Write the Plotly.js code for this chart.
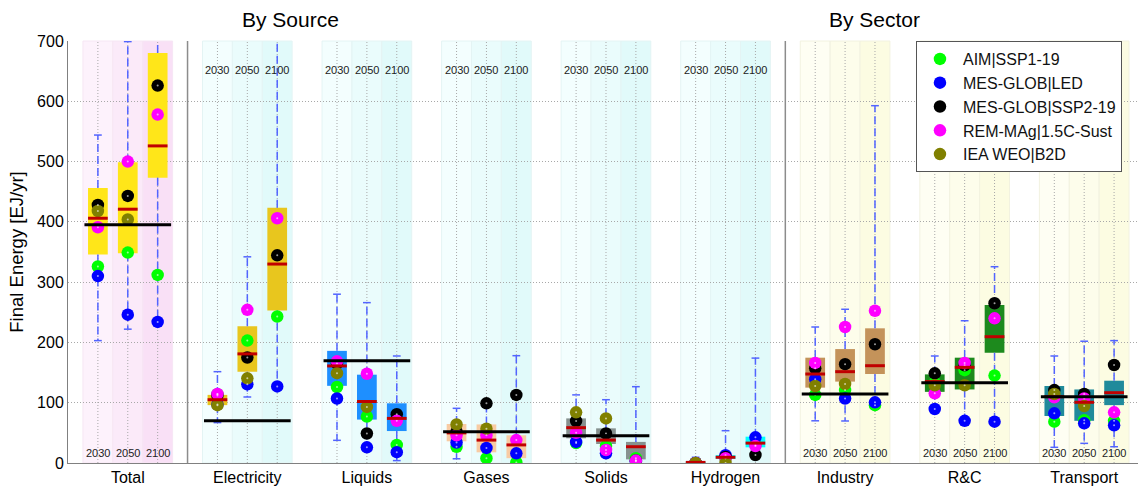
<!DOCTYPE html>
<html><head><meta charset="utf-8">
<script src="https://cdn.plot.ly/plotly-3.0.1.min.js"></script>
<style>html,body{margin:0;padding:0;background:#fff;overflow:hidden}#chart{width:1138px;height:486px}</style>
</head><body><div id="chart"></div>
<script>
// ---------------- DATA ----------------
const categories = ['Total','Electricity','Liquids','Gases','Solids','Hydrogen','Industry','R&C','Transport'];
const years = ['2030','2050','2100'];
const groupTypes = ['total','source','source','source','source','source','sector','sector','sector'];

// box statistics, 27 values each (category x year)
const boxQ1 = [346,348,473, 96,151.5,253, 128,72,53, 36,17.7,8, 41,31.5,6, 0,6.6,26, 125,135,147.6, 118,122,183, 78,70,96];
const boxQ3 = [456,499,680, 113,227,423.5, 186,146.5,99, 64.7,64,46, 74,57.5,35, 2,13,43.7, 174.7,189,223.4, 147,174.7,262, 127.7,122,136.5];
const boxMedian = [406,421,526, 105,181,330, 161,102,74, 50,38,30, 58.6,38,27, 1,9.5,33, 147.6,151.5,161.4, 135,158.7,209.5, 110,100.7,116.6];
const whiskerLow = [203,222,234, 67,109.5,127, 37.6,26,4, 7,8,0, 35,16,2, 0,0,13, 70,69.7,96, 89.6,70,68.5, 26,32.6,27];
const whiskerHigh = [544,699,760, 151.5,342,760, 280,266,177.5, 90.7,99,178, 113,105,126.6, 9.5,53.6,174, 225.6,255,592.7, 177.5,236,325.6, 177.5,202,203];

// reference (black) line per category
const refLine = [395, 70, 169.7, 52, 45.3, null, 114.5, 133, 110];

// model scenarios
const modelNames = ['AIM|SSP1-19','MES-GLOB|LED','MES-GLOB|SSP2-19','REM-MAg|1.5C-Sust','IEA WEO|B2D'];
const aimSSP1 = [326,349,312, 114,203,243, 126,77,30, 27,8,1, 33,28,8, 0,8,30, 113,121,96, 133,154,145, 68.5,71,70];
const mesLED = [310,246,234, 97,130.5,127, 107,26,18, 34,25,16, 35,16,3, 0,13,42.6, 139,107,100.6, 89.6,70,68.5, 82.4,65.8,62.5];
const mesSSP2 = [428,443,626, 112,175,344.5, 165,49,81, 52,99,113, 69.7,49,4, 0,10,13.3, 157,164,197, 148.7,162,265, 121,114.5,162.5];
const remSust = [391,500,578, 114.5,254,406, 168.6,148,70, 46,46,38, 50,21.6,4, 0,8,28, 166,225.6,252.6, 115.6,166,240, 109,107,84];
const ieaB2D = [418,404,null, 96,140.5,null, 149,93,null, 64,57,null, 84,74,null, 0,0,null, 127.7,131,null, 129,129,null, 114.5,94.5,null];

// ---------------- STYLE ----------------
const FONT = 'Arial, "Liberation Sans", sans-serif';
const modelColors = ['#00ff00','#0000ff','#000000','#ff00ff','#808000'];
const modelSeries = [aimSSP1, mesLED, mesSSP2, remSust, ieaB2D];
const boxColors = ['#ffe619','#e8c61e','#1e8fff','#f8cba3','#86918f','#00ffff','#c4935a','#1d8a1d','#1f8a9b'];
const bandColors = {
  total: ['#fdf2fc','#fbeaf9','#f9e0f6'],
  source: ['#f3fefe','#eafcfc','#e1fafa'],
  sector: ['#fefef3','#fdfdeb','#fcfce2']
};
const bandEdge = {total:'#f6e6f4', source:'#e4f4f4', sector:'#f2f2e0'};
const whiskerColor = '#5264ff';
const HALF = 0.33, CAP = 0.13;

// positions
const xpos = [], colCat = [], colYear = [];
categories.forEach((c,i)=>years.forEach((y,j)=>{xpos.push(1+4*i+j); colCat.push(i); colYear.push(j);}));

// ---------------- SHAPES ----------------
const shapes = [];
xpos.forEach((x,k)=>{
  const t = groupTypes[colCat[k]];
  shapes.push({type:'rect', layer:'below', xref:'x', yref:'paper', x0:x-0.5, x1:x+0.5, y0:0, y1:1,
    fillcolor: bandColors[t][colYear[k]], line:{color:bandEdge[t], width:1}});
});
xpos.forEach(x=>{
  shapes.push({type:'line', layer:'below', xref:'x', yref:'paper', x0:x, x1:x, y0:0, y1:1,
    line:{color:'#a8a8a8', width:1, dash:'1px,2px'}});
});
[4,24].forEach(x=>shapes.push({type:'line', layer:'above', xref:'x', yref:'paper', x0:x, x1:x, y0:0, y1:1,
  line:{color:'#8c8c8c', width:1.5}}));

// ---------------- TRACES ----------------
const traces = [];
// whiskers (dashed)
const wx=[], wy=[], cx=[], cy=[];
xpos.forEach((x,k)=>{
  wx.push(x,x,null,x,x,null); wy.push(boxQ3[k],whiskerHigh[k],null,boxQ1[k],whiskerLow[k],null);
  cx.push(x-CAP,x+CAP,null,x-CAP,x+CAP,null); cy.push(whiskerHigh[k],whiskerHigh[k],null,whiskerLow[k],whiskerLow[k],null);
});
traces.push({type:'scatter', mode:'lines', x:wx, y:wy, line:{color:whiskerColor, width:1.5, dash:'8px,4px'}, showlegend:false, hoverinfo:'skip'});
traces.push({type:'scatter', mode:'lines', x:cx, y:cy, line:{color:whiskerColor, width:1.5}, showlegend:false, hoverinfo:'skip'});
// boxes
traces.push({type:'bar', x:xpos, base:boxQ1, y:boxQ3.map((v,k)=>v-boxQ1[k]), width:2*HALF,
  marker:{color:xpos.map((x,k)=>boxColors[colCat[k]]), line:{width:0}}, showlegend:false, hoverinfo:'skip'});
// model markers
modelSeries.forEach((s,m)=>{
  traces.push({type:'scatter', mode:'markers', name:modelNames[m], x:xpos, y:s,
    marker:{color:modelColors[m], size:12.5, line:{width:0}}, showlegend:true});
});
modelSeries.forEach((s,m)=>{
  traces.push({type:'scatter', mode:'markers', x:xpos, y:s, showlegend:false, hoverinfo:'skip',
    marker:{color:'rgba(255,255,255,0.6)', size:2}});
});
// medians
const mx=[], my=[];
xpos.forEach((x,k)=>{mx.push(x-HALF,x+HALF,null); my.push(boxMedian[k],boxMedian[k],null);});
traces.push({type:'scatter', mode:'lines', x:mx, y:my, line:{color:'#c00000', width:3}, showlegend:false, hoverinfo:'skip'});
// reference lines
const rx=[], ry=[];
categories.forEach((c,i)=>{ if(refLine[i]!==null){ const s=1+4*i; rx.push(s-0.45,s+2.45,null); ry.push(refLine[i],refLine[i],null);} });
traces.push({type:'scatter', mode:'lines', x:rx, y:ry, line:{color:'#000000', width:3}, showlegend:false, hoverinfo:'skip'});

// ---------------- ANNOTATIONS ----------------
const annotations = [];
xpos.forEach((x,k)=>{
  const t = groupTypes[colCat[k]];
  annotations.push({xref:'x', yref:'y', x:x, y: t==='source'?652:16, text:years[colYear[k]], showarrow:false,
    font:{family:FONT, size:11, color:'#222'}, xanchor:'center', yanchor:'middle'});
});
annotations.push({xref:'x', yref:'paper', x:7.45, y:1.05, text:'By Source', showarrow:false, font:{family:FONT,size:21,color:'#000'}, yanchor:'middle'});
annotations.push({xref:'x', yref:'paper', x:27.0, y:1.05, text:'By Sector', showarrow:false, font:{family:FONT,size:21,color:'#000'}, yanchor:'middle'});

const layout = {
  width:1138, height:486,
  margin:{l:68, r:0, t:41, b:23, pad:0},
  paper_bgcolor:'#fff', plot_bgcolor:'#fff',
  barmode:'overlay',
  showlegend:true,
  legend:{x:0.7925, y:1.0, xanchor:'left', yanchor:'top', bgcolor:'#fff', bordercolor:'#555', borderwidth:1,
    font:{family:FONT, size:16, color:'#111'}, tracegroupgap:0, itemwidth:36},
  xaxis:{range:[0,35.8], tickmode:'array', tickvals:categories.map((c,i)=>2+4*i), ticktext:categories,
    showgrid:false, zeroline:false, showline:true, linecolor:'#808080', linewidth:1, ticks:'',
    tickfont:{family:FONT, size:16, color:'#000'}, fixedrange:true},
  yaxis:{range:[0,700], tickvals:[0,100,200,300,400,500,600,700], showgrid:true, gridcolor:'#a8a8a8', griddash:'1px,2px', gridwidth:1,
    zeroline:false, showline:true, linecolor:'#808080', linewidth:1, ticks:'',
    tickfont:{family:FONT, size:16, color:'#000'},
    title:{text:'Final Energy [EJ/yr]', font:{family:FONT, size:18.5, color:'#000'}, standoff:8}},
  shapes:shapes, annotations:annotations
};
Plotly.newPlot('chart', traces, layout, {displayModeBar:false, staticPlot:true});
</script></body></html>
